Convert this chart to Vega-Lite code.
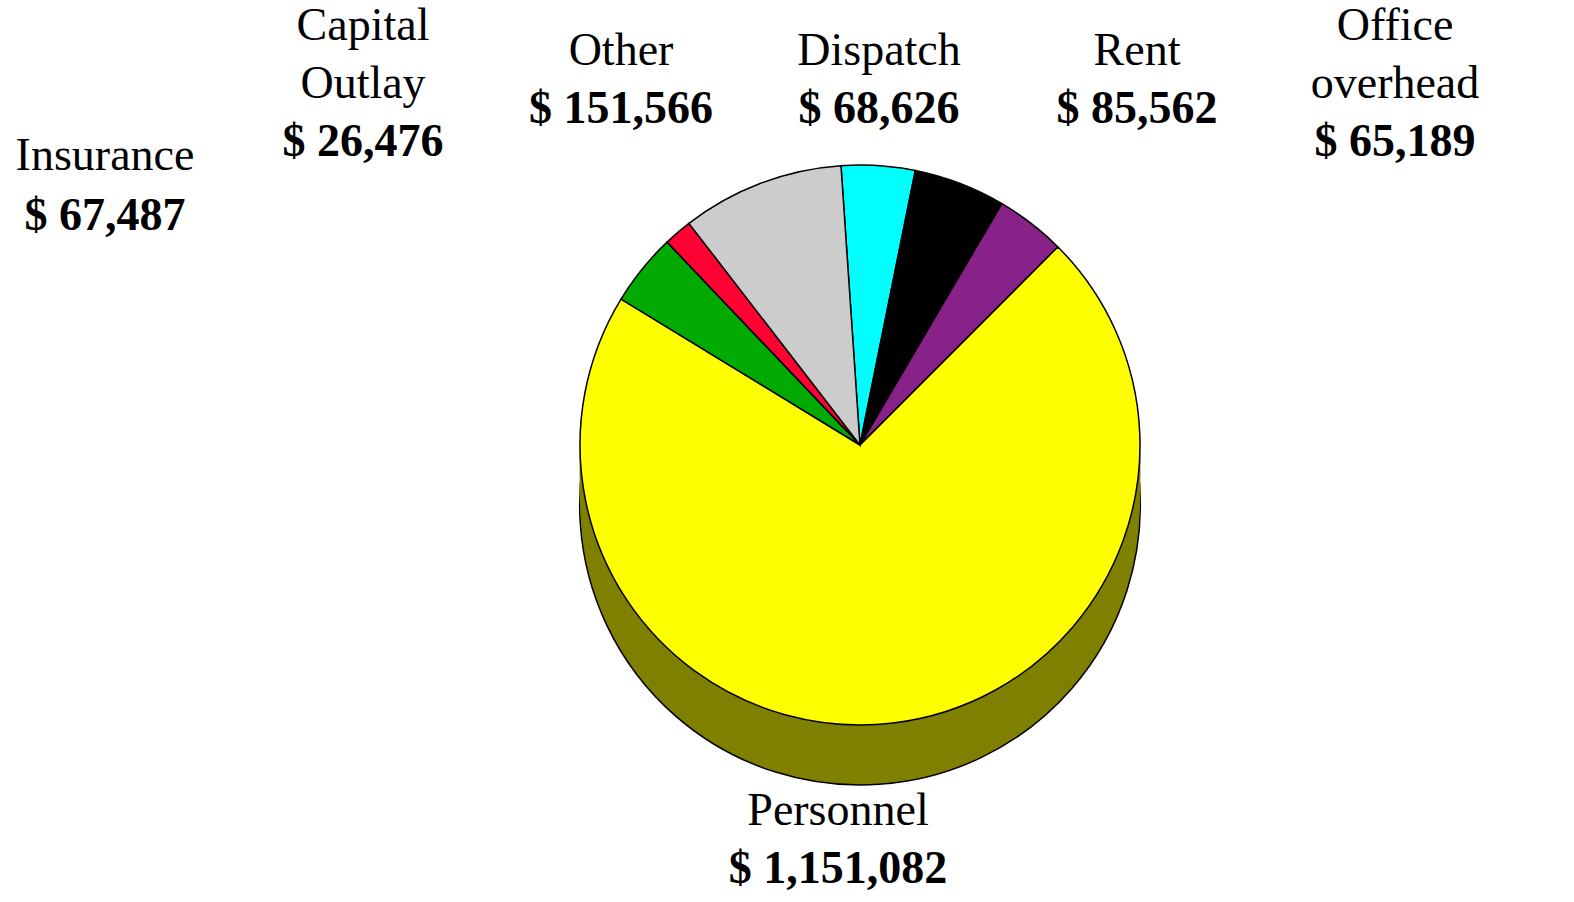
{
  "$schema": "https://vega.github.io/schema/vega-lite/v6.json",
  "width": 1574,
  "height": 902,
  "padding": 0,
  "autosize": {"type": "fit", "contains": "padding"},
  "background": "white",
  "config": {"view": {"stroke": null}},
  "data": {
    "values": [
      {"category": "Dispatch", "amount": 68626, "idx": 1},
      {"category": "Rent", "amount": 85562, "idx": 2},
      {"category": "Office overhead", "amount": 65189, "idx": 3},
      {"category": "Personnel", "amount": 1151082, "idx": 4},
      {"category": "Insurance", "amount": 67487, "idx": 5},
      {"category": "Capital Outlay", "amount": 26476, "idx": 6},
      {"category": "Other", "amount": 151566, "idx": 7}
    ]
  },
  "transform": [
    {"calculate": "'$ ' + format(datum.amount, ',')", "as": "money"}
  ],
  "layer": [
    {
      "mark": {"type": "arc", "outerRadius": 280, "fill": "#808000", "stroke": "black", "strokeWidth": 1.5, "xOffset": 73, "yOffset": 54},
      "encoding": {"theta": {"aggregate": "sum", "field": "amount", "type": "quantitative", "scale": {"range": [-0.068, 6.2152]}}}
    },
    {
      "mark": {"type": "arc", "outerRadius": 280, "fill": "#808000", "xOffset": 73, "yOffset": 42},
      "encoding": {"theta": {"aggregate": "sum", "field": "amount", "type": "quantitative"}}
    },
    {
      "mark": {"type": "arc", "outerRadius": 280, "fill": "#808000", "xOffset": 73, "yOffset": 30},
      "encoding": {"theta": {"aggregate": "sum", "field": "amount", "type": "quantitative"}}
    },
    {
      "mark": {"type": "arc", "outerRadius": 280, "fill": "#808000", "xOffset": 73, "yOffset": 18},
      "encoding": {"theta": {"aggregate": "sum", "field": "amount", "type": "quantitative"}}
    },
    {
      "mark": {"type": "arc", "outerRadius": 280, "fill": "#808000", "xOffset": 73, "yOffset": 6},
      "encoding": {"theta": {"aggregate": "sum", "field": "amount", "type": "quantitative"}}
    },
    {
      "mark": {"type": "arc", "outerRadius": 280, "stroke": "black", "strokeWidth": 1.5, "xOffset": 73, "yOffset": -6},
      "encoding": {
        "theta": {"field": "amount", "type": "quantitative", "stack": true},
        "order": {"field": "idx", "type": "quantitative"},
        "color": {
          "field": "category",
          "type": "nominal",
          "legend": null,
          "scale": {
            "domain": ["Dispatch", "Rent", "Office overhead", "Personnel", "Insurance", "Capital Outlay", "Other"],
            "range": ["#00FFFF", "#000000", "#882288", "#FFFF00", "#00AA00", "#FF0033", "#CCCCCC"]
          }
        }
      }
    },
    {
      "transform": [{"filter": "datum.category === 'Capital Outlay' || datum.category === 'Office overhead'"}],
      "mark": {"type": "text", "font": "Liberation Serif", "fontSize": 46, "baseline": "bottom", "align": "center", "lineBreak": " ", "lineHeight": 58, "dy": -401, "color": "black"},
      "encoding": {
        "x": {"field": "category", "type": "nominal", "axis": null, "scale": {"type": "point", "padding": 0, "domain": ["Insurance", "Capital Outlay", "Other", "Dispatch", "Rent", "Office overhead"], "range": [105, 1395]}},
        "text": {"field": "category"}
      }
    },
    {
      "transform": [{"filter": "datum.category === 'Capital Outlay' || datum.category === 'Office overhead'"}],
      "mark": {"type": "text", "font": "Liberation Serif", "fontSize": 46, "fontWeight": "bold", "baseline": "bottom", "align": "center", "dy": -285, "color": "black"},
      "encoding": {
        "x": {"field": "category", "type": "nominal", "axis": null},
        "text": {"field": "money"}
      }
    },
    {
      "transform": [{"filter": "datum.category === 'Other' || datum.category === 'Dispatch' || datum.category === 'Rent'"}],
      "mark": {"type": "text", "font": "Liberation Serif", "fontSize": 46, "baseline": "bottom", "align": "center", "dy": -376, "color": "black"},
      "encoding": {
        "x": {"field": "category", "type": "nominal", "axis": null},
        "text": {"field": "category"}
      }
    },
    {
      "transform": [{"filter": "datum.category === 'Other' || datum.category === 'Dispatch' || datum.category === 'Rent'"}],
      "mark": {"type": "text", "font": "Liberation Serif", "fontSize": 46, "fontWeight": "bold", "baseline": "bottom", "align": "center", "dy": -318, "color": "black"},
      "encoding": {
        "x": {"field": "category", "type": "nominal", "axis": null},
        "text": {"field": "money"}
      }
    },
    {
      "transform": [{"filter": "datum.category === 'Insurance'"}],
      "mark": {"type": "text", "font": "Liberation Serif", "fontSize": 46, "baseline": "bottom", "align": "center", "dy": -271, "color": "black"},
      "encoding": {
        "x": {"field": "category", "type": "nominal", "axis": null},
        "text": {"field": "category"}
      }
    },
    {
      "transform": [{"filter": "datum.category === 'Insurance'"}],
      "mark": {"type": "text", "font": "Liberation Serif", "fontSize": 46, "fontWeight": "bold", "baseline": "bottom", "align": "center", "dy": -211, "color": "black"},
      "encoding": {
        "x": {"field": "category", "type": "nominal", "axis": null},
        "text": {"field": "money"}
      }
    },
    {
      "transform": [{"filter": "datum.category === 'Personnel'"}],
      "mark": {"type": "text", "font": "Liberation Serif", "fontSize": 46, "baseline": "bottom", "align": "center", "dx": 51, "dy": 384, "color": "black"},
      "encoding": {
        "text": {"field": "category"}
      }
    },
    {
      "transform": [{"filter": "datum.category === 'Personnel'"}],
      "mark": {"type": "text", "font": "Liberation Serif", "fontSize": 46, "fontWeight": "bold", "baseline": "bottom", "align": "center", "dx": 51, "dy": 442, "color": "black"},
      "encoding": {
        "text": {"field": "money"}
      }
    }
  ]
}
